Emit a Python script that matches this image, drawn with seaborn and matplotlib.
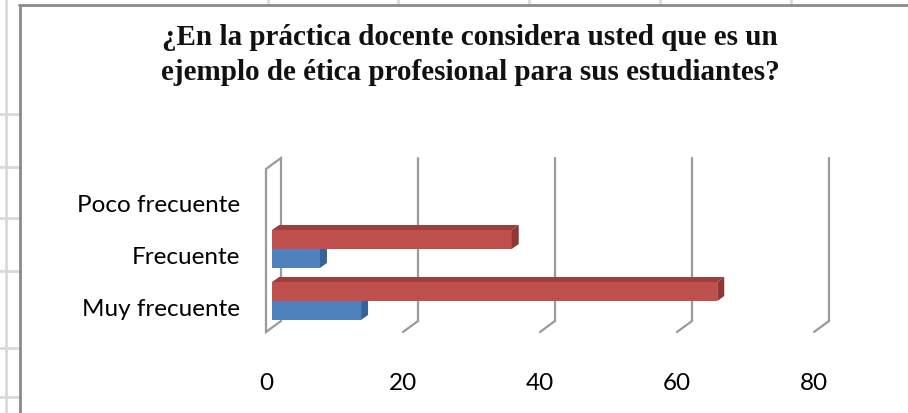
import numpy as np
import pandas as pd
import matplotlib
matplotlib.use("Agg")
import matplotlib.pyplot as plt
import seaborn as sns
from matplotlib.lines import Line2D
from matplotlib.patches import Polygon
from matplotlib.transforms import IdentityTransform, ScaledTranslation

# Survey answers per frequency level
categorias = ["Poco frecuente", "Frecuente", "Muy frecuente"]
serie_1 = [0, 7, 13]     # blue series
serie_2 = [0, 35, 65]    # red series
ticks_x = [0, 20, 40, 60, 80]
titulo = ("¿En la práctica docente considera usted que es un\n"
          "ejemplo de ética profesional para sus estudiantes?")

W, H = 908, 414
sns.set_theme(style="white")
plt.rcParams["font.family"] = ["Lato", "DejaVu Sans"]

fig = plt.figure(figsize=(W / 100, H / 100), dpi=100)
fig.patch.set_facecolor("white")

# front plane of the plot area, in pixels
L, R, T, B = 266, 814, 170, 333
ax = fig.add_axes([L / W, (H - B) / H, (R - L) / W, (B - T) / H])
ax.set_facecolor("none")

df = pd.DataFrame({
    "categoria": categorias * 2,
    "valor": serie_1 + serie_2,
    "serie": ["Serie 1"] * len(categorias) + ["Serie 2"] * len(categorias),
})
hue_order = ["Serie 2", "Serie 1"]
colores = {"Serie 1": "#4F81BD", "Serie 2": "#C0504D"}
lados = {"Serie 1": "#38629A", "Serie 2": "#8E3836"}
techos = {"Serie 1": "#3F6FAA", "Serie 2": "#9C3E3B"}

sns.barplot(data=df, x="valor", y="categoria", hue="serie", order=categorias,
            hue_order=hue_order, palette=colores, orient="h", width=0.73,
            gap=0, saturation=1, legend=False, errorbar=None, ax=ax)

pitch = 52.0
y_bottom = (B - 204) / pitch
ax.set_ylim(y_bottom, y_bottom - (B - T) / pitch)
ax.set_xlim(0, 80)
for s in ax.spines.values():
    s.set_visible(False)

ax.set_xticks(ticks_x)
ax.set_xticklabels([str(t) for t in ticks_x])
ax.set_yticks(range(len(categorias)))
ax.set_yticklabels(categorias)
ax.tick_params(axis="both", length=0, labelsize=17.5, colors="#000000")
ax.tick_params(axis="x", pad=29)
ax.tick_params(axis="y", pad=18.5)
ax.set_xlabel("")
ax.set_ylabel("")

ident = IdentityTransform()
back = np.array([15.0, 11.0])     # offset of the back wall (px)
front_face = np.array([6.0, 6.0])  # bar front face offset (px)
depth = np.array([7.0, 5.0])       # bar depth (px)
grid_col = "#9a9a9a"

y0, y1 = ax.get_ylim()


def disp(x, y):
    return ax.transData.transform((x, y))


# side wall at x = 0
fb, ft = disp(0, y0), disp(0, y1)
wall = Polygon([fb, ft, ft + back, fb + back], closed=True, facecolor="white",
               edgecolor=grid_col, lw=1.6, transform=ident, clip_on=False,
               zorder=1)
ax.add_patch(wall)

# vertical gridlines on the back wall and floor ticks
for v in ticks_x[1:]:
    pb, pt = disp(v, y0), disp(v, y1)
    ax.add_line(Line2D([pb[0] + back[0], pt[0] + back[0]],
                       [pb[1] + back[1], pt[1] + back[1]],
                       color=grid_col, lw=1.6, transform=ident,
                       clip_on=False, zorder=1))
    ax.add_line(Line2D([pb[0], pb[0] + back[0]], [pb[1], pb[1] + back[1]],
                       color=grid_col, lw=1.6, transform=ident,
                       clip_on=False, zorder=1))

# 3D bars: shifted front face plus top and side faces
offset = ScaledTranslation(front_face[0] / 100, front_face[1] / 100,
                           fig.dpi_scale_trans)
for name, container in zip(hue_order, ax.containers):
    z = 4 if name == "Serie 2" else 3
    for bar in container:
        w = bar.get_width()
        bar.set_transform(ax.transData + offset)
        bar.set_zorder(z)
        bar.set_edgecolor("none")
        bar.set_clip_on(False)
        if w <= 0:
            continue
        xa, ya = bar.get_x(), bar.get_y()
        p0 = disp(xa, ya) + front_face
        p1 = disp(xa + w, ya + bar.get_height()) + front_face
        lft, rgt = min(p0[0], p1[0]), max(p0[0], p1[0])
        bot, top = min(p0[1], p1[1]), max(p0[1], p1[1])
        side = Polygon([(rgt, bot), (rgt + depth[0], bot + depth[1]),
                        (rgt + depth[0], top + depth[1]), (rgt, top)],
                       closed=True, facecolor=lados[name], edgecolor="none",
                       transform=ident, clip_on=False, zorder=z)
        roof = Polygon([(lft, top), (rgt, top),
                        (rgt + depth[0], top + depth[1]),
                        (lft + depth[0], top + depth[1])],
                       closed=True, facecolor=techos[name], edgecolor="none",
                       transform=ident, clip_on=False, zorder=z)
        ax.add_patch(side)
        ax.add_patch(roof)

# title
fig.text(470 / W, 1 - 55 / H, titulo, ha="center", va="center",
         fontfamily=["Liberation Serif", "DejaVu Serif"], fontweight="bold",
         fontsize=21, linespacing=1.35, color="#111111")

# surrounding worksheet cells and chart border
cell = "#d9d9d9"


def fig_line(xs, ys, color, lw):
    fig.add_artist(Line2D(xs, ys, color=color, lw=lw, transform=ident))


fig_line([6, 6], [0, H], cell, 2)
for yy in [115, 168, 219, 272, 349, 398]:
    fig_line([0, 20], [H - yy, H - yy], cell, 2)
for xx in [268, 398, 529, 660, 791]:
    fig_line([xx, xx], [H, H - 6], cell, 2)
fig_line([20, 20], [0, H - 6], "#8a8a8a", 2)
fig_line([19, W], [H - 6, H - 6], "#8a8a8a", 2)

fig.savefig("out.png", dpi=100, facecolor="white")
